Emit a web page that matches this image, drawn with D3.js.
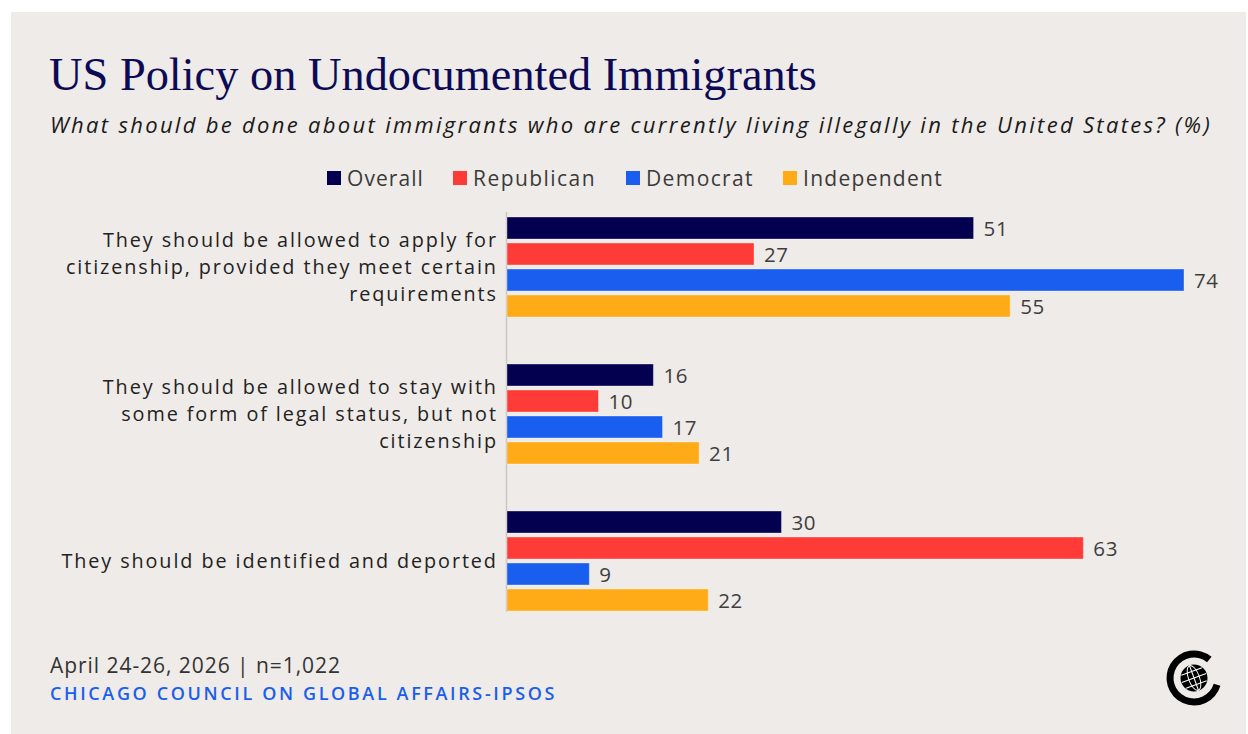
<!DOCTYPE html>
<html>
<head>
<meta charset="utf-8">
<script src="https://cdn.jsdelivr.net/npm/d3@7"></script>
<style>
  html, body { margin: 0; padding: 0; background: #ffffff; }
  svg { display: block; }
</style>
</head>
<body>
<svg id="chart" width="1248" height="734"></svg>
<script>
// ---- Data ----
const categories = [
  "They should be allowed to apply for citizenship, provided they meet certain requirements",
  "They should be allowed to stay with some form of legal status, but not citizenship",
  "They should be identified and deported"
];
const categoryLines = [
  ["They should be allowed to apply for", "citizenship, provided they meet certain", "requirements"],
  ["They should be allowed to stay with", "some form of legal status, but not", "citizenship"],
  ["They should be identified and deported"]
];
const seriesNames = ["Overall", "Republican", "Democrat", "Independent"];
const overall     = [51, 16, 30];
const republican  = [27, 10, 63];
const democrat    = [74, 17, 9];
const independent = [55, 21, 22];
const seriesValues = [overall, republican, democrat, independent];
const seriesColors = ["#03004f", "#ff3b38", "#1a5ef0", "#ffab18"];

const titleText = "US Policy on Undocumented Immigrants";
const subtitleText = "What should be done about immigrants who are currently living illegally in the United States? (%)";
const footerDate = "April 24-26, 2026 | n=1,022";
const footerSource = "CHICAGO COUNCIL ON GLOBAL AFFAIRS-IPSOS";

// ---- Layout ----
const svg = d3.select("#chart");
const sans = "'Open Sans', 'Lato', sans-serif";

svg.append("rect").attr("x", 11).attr("y", 12).attr("width", 1235).attr("height", 722)
  .attr("fill", "#efebe8");

function fitSize(sel, width) {
  const fs = parseFloat(sel.attr("font-size"));
  const w = sel.node().getComputedTextLength();
  sel.attr("font-size", (fs * width / w).toFixed(2));
}
function spacingFor(sel, width) {
  sel.attr("letter-spacing", 0);
  const w = sel.node().getComputedTextLength();
  const n = sel.text().length;
  let ls = (width - w) / n;
  sel.attr("letter-spacing", ls);
  const w2 = sel.node().getComputedTextLength();
  ls += (width - w2) / n;
  sel.attr("letter-spacing", ls);
  return ls;
}

// Title
const title = svg.append("text").attr("x", 49).attr("y", 90)
  .attr("font-family", "'Liberation Serif', 'Times New Roman', serif")
  .attr("font-size", 46).attr("fill", "#0c0a57").text(titleText);
fitSize(title, 768);

const sub = svg.append("text").attr("x", 50).attr("y", 132.5)
  .attr("font-family", sans).attr("font-style", "italic").attr("font-weight", 400)
  .attr("font-size", 22).attr("fill", "#1a1a1a").text(subtitleText);
spacingFor(sub, 1162);

// Legend
const legendText = [347, 473, 646, 803];
const legendWidths = [77, 123, 108, 140];
const legend = svg.append("g");
seriesNames.forEach((name, i) => {
  legend.append("rect").attr("x", legendText[i] - 20).attr("y", 171).attr("width", 14).attr("height", 14)
    .attr("fill", seriesColors[i]);
  const t = legend.append("text").attr("x", legendText[i]).attr("y", 186)
    .attr("font-family", sans).attr("font-size", 21).attr("fill", "#3a3a3a").text(name);
  spacingFor(t, legendWidths[i]);
});

// Scales
const x = d3.scaleLinear().domain([0, 74]).range([507, 1184]);
const yGroup = d3.scaleBand().domain(categories).range([217, 611]).paddingInner(47 / 147).paddingOuter(0);
const ySeries = d3.scaleBand().domain(seriesNames).range([0, yGroup.bandwidth()]).paddingInner(4 / 26).paddingOuter(0);

// Axis line
svg.append("line").attr("x1", x(0) - 0.5).attr("x2", x(0) - 0.5).attr("y1", 212).attr("y2", 612)
  .attr("stroke", "#c9c6c4").attr("stroke-width", 1.5);

// label letter spacing (calibrated on first line to reference width)
const labelSize = 19.8;
const probe = svg.append("text").attr("font-family", sans).attr("font-size", labelSize).text(categoryLines[0][0]);
const labelLS = spacingFor(probe, 395);
probe.remove();

const groups = svg.append("g").selectAll("g").data(categories).join("g")
  .attr("transform", d => `translate(0,${yGroup(d)})`);

groups.each(function(cat, ci) {
  const g = d3.select(this);
  seriesNames.forEach((s, si) => {
    const v = seriesValues[si][ci];
    g.append("rect").attr("x", x(0)).attr("y", ySeries(s))
      .attr("width", x(v) - x(0)).attr("height", ySeries.bandwidth())
      .attr("fill", seriesColors[si])
      .attr("stroke", "rgba(255,255,255,0.35)").attr("stroke-width", 1);
    g.append("text").attr("x", x(v) + 10).attr("y", ySeries(s) + ySeries.bandwidth() / 2 + 7.5)
      .attr("font-family", sans).attr("font-size", 20.5).attr("letter-spacing", 0.6)
      .attr("fill", "#3e3e3e").text(v);
  });
  const lines = categoryLines[ci];
  const cy = yGroup.bandwidth() / 2;
  const lh = 27;
  const t = g.append("text").attr("text-anchor", "end")
    .attr("font-family", sans).attr("font-size", labelSize).attr("letter-spacing", labelLS).attr("fill", "#222");
  lines.forEach((ln, li) => {
    t.append("tspan").attr("x", 496 + labelLS)
      .attr("y", cy + 7 + (li - (lines.length - 1) / 2) * lh).text(ln);
  });
});

// Footer
const fd = svg.append("text").attr("x", 50).attr("y", 673)
  .attr("font-family", sans).attr("font-size", 21).attr("fill", "#333").text(footerDate);
spacingFor(fd, 291);
const fsrc = svg.append("text").attr("x", 50).attr("y", 700)
  .attr("font-family", sans).attr("font-weight", 600).attr("font-size", 18).attr("fill", "#1a5ef0").text(footerSource);
spacingFor(fsrc, 507);

// Logo
const logo = svg.append("g").attr("transform", "translate(1194,678)");
const ring = d3.arc().innerRadius(20.5).outerRadius(27.5)
  .startAngle(Math.PI * 0.59).endAngle(Math.PI * 2 + Math.PI * 0.22);
logo.append("path").attr("d", ring()).attr("fill", "#000");
logo.append("circle").attr("r", 13.5).attr("fill", "#000");
const gl = logo.append("g").attr("stroke", "#fff").attr("stroke-width", 1).attr("fill", "none")
  .attr("transform", "rotate(-20)");
gl.append("ellipse").attr("rx", 5.5).attr("ry", 13);
gl.append("line").attr("x1", 0).attr("x2", 0).attr("y1", -13).attr("y2", 13);
gl.append("line").attr("x1", -13).attr("x2", 13).attr("y1", 0).attr("y2", 0);
gl.append("line").attr("x1", -11).attr("x2", 11).attr("y1", -7).attr("y2", -7);
gl.append("line").attr("x1", -11).attr("x2", 11).attr("y1", 7).attr("y2", 7);
</script>
</body>
</html>
